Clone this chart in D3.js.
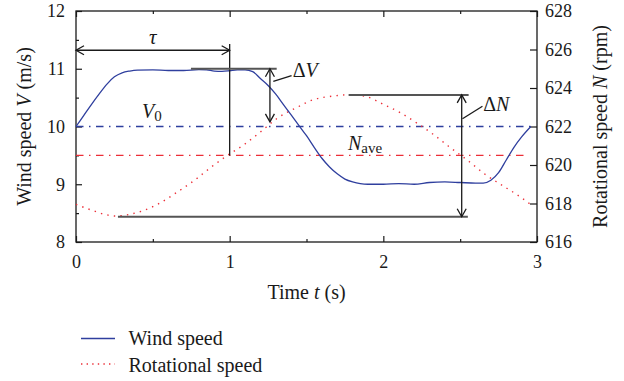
<!DOCTYPE html>
<html><head><meta charset="utf-8">
<script src="https://cdn.jsdelivr.net/npm/d3@7"></script>
<style>
body{margin:0;background:#fff;}
svg{display:block;}
svg text{font-family:"Liberation Serif","Tinos","DejaVu Serif","Noto Serif",serif;}
</style></head>
<body>
<svg id="c" width="624" height="381"></svg>
<script>
// ---- data ----
const windT = [0,0.05,0.1,0.15,0.2,0.25,0.3,0.35,0.4,0.5,0.6,0.7,0.8,0.85,0.9,0.95,1.0,1.05,1.1,1.15,1.2,1.25,1.3,1.35,1.4,1.45,1.5,1.55,1.6,1.65,1.7,1.75,1.8,1.85,1.9,2.0,2.1,2.2,2.3,2.4,2.5,2.6,2.65,2.7,2.75,2.8,2.85,2.9,2.96];
const windV = [10,10.19,10.38,10.56,10.73,10.86,10.93,10.96,10.975,10.98,10.97,10.97,10.985,10.98,10.96,10.955,10.965,10.98,10.98,10.95,10.83,10.71,10.56,10.38,10.2,10.02,9.84,9.64,9.45,9.3,9.18,9.09,9.04,9.01,9.0,9.0,9.01,9.0,9.03,9.04,9.03,9.02,9.02,9.07,9.2,9.42,9.64,9.82,10.0];
const rotT = [0,0.1,0.18,0.26,0.35,0.43,0.55,0.66,0.77,0.87,0.98,1.09,1.19,1.31,1.44,1.54,1.67,1.78,1.89,2.0,2.11,2.22,2.33,2.42,2.56,2.66,2.77,2.89,2.955];
const rotN = [617.95,617.66,617.45,617.35,617.44,617.61,618.04,618.6,619.2,619.83,620.47,621.04,621.65,622.43,623.0,623.38,623.58,623.65,623.55,623.15,622.72,622.17,621.56,621.0,620.17,619.53,618.96,618.35,617.97];
const V0 = 10, Nave = 620.5;
const xTicks = [0,1,2,3], xMinor = [0.5,1.5,2.5];
const yLeftTicks = [8,9,10,11,12], yLeftMinor = [8.5,9.5,10.5,11.5];
const yRightTicks = [616,618,620,622,624,626,628];
const legendLabels = ["Wind speed","Rotational speed"];

// ---- layout ----
const W=624,H=381, m={l:76,r:87,t:11,b:139};
const pw=W-m.l-m.r, ph=H-m.t-m.b;
const svg=d3.select("#c");
const g=svg.append("g").attr("transform",`translate(${m.l},${m.t})`);
const x=d3.scaleLinear().domain([0,3]).range([0,pw]);
const yL=d3.scaleLinear().domain([8,12]).range([ph,0]);
const yR=d3.scaleLinear().domain([616,628]).range([ph,0]);

const blue="#2f3f9e", red="#ec2f38", ink="#1a1a1a";
const FF='"Liberation Serif","Tinos","DejaVu Serif","Noto Serif",serif';

// box
g.append("rect").attr("width",pw).attr("height",ph).attr("fill","none").attr("stroke",ink).attr("stroke-width",1.3);

function styleAxis(sel,fs){sel.attr("font-family",FF);sel.select(".domain").remove();sel.selectAll("line").attr("stroke",ink).attr("stroke-width",1.2);
  sel.selectAll("text").attr("font-size",fs).attr("fill",ink).style("font-family",FF);}
g.append("g").attr("transform",`translate(0,${ph})`).call(d3.axisBottom(x).tickValues(xTicks).tickFormat(d3.format("d")).tickSizeInner(-6).tickSizeOuter(0).tickPadding(13.5)).call(s=>styleAxis(s,18));
g.append("g").attr("transform",`translate(0,${ph})`).call(d3.axisBottom(x).tickValues(xMinor).tickFormat("").tickSizeInner(-3).tickSizeOuter(0)).call(s=>styleAxis(s,18));
g.append("g").call(d3.axisTop(x).tickValues(xTicks).tickFormat("").tickSizeInner(-6).tickSizeOuter(0)).call(s=>styleAxis(s,18));
g.append("g").call(d3.axisTop(x).tickValues(xMinor).tickFormat("").tickSizeInner(-3).tickSizeOuter(0)).call(s=>styleAxis(s,18));
g.append("g").call(d3.axisLeft(yL).tickValues(yLeftTicks).tickFormat(d3.format("d")).tickSizeInner(-6).tickSizeOuter(0).tickPadding(11)).call(s=>styleAxis(s,18));
g.append("g").call(d3.axisLeft(yL).tickValues(yLeftMinor).tickFormat("").tickSizeInner(-3).tickSizeOuter(0)).call(s=>styleAxis(s,18));
g.append("g").attr("transform",`translate(${pw},0)`).call(d3.axisRight(yR).tickValues(yRightTicks).tickFormat(d3.format("d")).tickSizeInner(-7).tickSizeOuter(0).tickPadding(8)).call(s=>styleAxis(s,18));

// reference lines
const dd="7.5,5.5,1.5,5.5";
g.append("line").attr("x1",x(0)).attr("x2",x(2.96)).attr("y1",yL(V0)).attr("y2",yL(V0)).attr("stroke",blue).attr("stroke-width",1.3).attr("stroke-dasharray",dd);
g.append("line").attr("x1",x(0)).attr("x2",x(2.94)).attr("y1",yR(Nave)).attr("y2",yR(Nave)).attr("stroke",red).attr("stroke-width",1.3).attr("stroke-dasharray",dd);

// series
const windLine=d3.line().x((d,i)=>x(windT[i])).y(d=>yL(d)).curve(d3.curveMonotoneX);
const rotLine=d3.line().x((d,i)=>x(rotT[i])).y(d=>yR(d)).curve(d3.curveMonotoneX);
g.append("path").attr("d",rotLine(rotN)).attr("fill","none").attr("stroke",red).attr("stroke-width",1.4).attr("stroke-dasharray","1.4,5.2");
g.append("path").attr("d",windLine(windV)).attr("fill","none").attr("stroke",blue).attr("stroke-width",1.3);

// annotations
function seg(x1,y1,x2,y2,c,w){g.append("line").attr("x1",x1).attr("y1",y1).attr("x2",x2).attr("y2",y2).attr("stroke",c||ink).attr("stroke-width",w||1.3);}
function head(px,py,dir){
  const L=8,S=4.5; let p;
  if(dir==='l')p=[[px+L,py-S],[px,py],[px+L,py+S]];
  if(dir==='r')p=[[px-L,py-S],[px,py],[px-L,py+S]];
  if(dir==='u')p=[[px-S,py+L],[px,py],[px+S,py+L]];
  if(dir==='d')p=[[px-S,py-L],[px,py],[px+S,py-L]];
  g.append("path").attr("d",d3.line()(p)).attr("fill","none").attr("stroke",ink).attr("stroke-width",1.3);
}
const tauY=yL(11.32);
seg(x(0),tauY,x(1),tauY); head(x(0),tauY,'l'); head(x(1),tauY,'r');
seg(x(1),yL(11.43),x(1),yL(9.5));
seg(x(0.748),yL(11),x(1.306),yL(11),"#555",2);
const dvx=x(1.262);
seg(dvx,yL(11),dvx,yL(10.08)); head(dvx,yL(11),'u'); head(dvx,yL(10.08),'d');
seg(x(1.284),yL(10.78),x(1.403),yL(10.88));
seg(x(1.774),yR(623.64),x(2.555),yR(623.64),"#555",2);
seg(x(0.273),yR(617.31),x(2.55),yR(617.31),"#555",2);
const dnx=x(2.51);
seg(dnx,yR(623.64),dnx,yR(617.31)); head(dnx,yR(623.64),'u'); head(dnx,yR(617.31),'d');
seg(x(2.515),yR(622.4),x(2.645),yR(623.05));

function label(px,py,parts,fs){const t=g.append("text").attr("x",px).attr("y",py).attr("font-size",fs||20).attr("fill",ink);
  parts.forEach(p=>{const s=t.append("tspan").text(p.t);if(p.i)s.attr("font-style","italic");if(p.sub)s.attr("font-size",p.sub).attr("dy",p.dy||0);});return t;}
label(x(0.5),tauY-6,[{t:"τ",i:true}],21).attr("text-anchor","middle");
label(x(1.41),yL(10.88)+1,[{t:"Δ"},{t:"V",i:true}]);
label(x(2.65),yR(623.05)+5,[{t:"Δ"},{t:"N",i:true}]);
label(x(0.43),yL(10.14),[{t:"V",i:true},{t:"0",sub:15,dy:3}]);
label(x(1.77),yR(620.8),[{t:"N",i:true},{t:"ave",sub:15,dy:3}]);

// axis titles
svg.append("text").attr("transform",`translate(31,${m.t+ph/2}) rotate(-90)`).attr("text-anchor","middle").attr("font-size",20).attr("fill",ink)
  .call(t=>{t.append("tspan").text("Wind speed ");t.append("tspan").attr("font-style","italic").text("V");t.append("tspan").text(" (m/s)");});
svg.append("text").attr("transform",`translate(607,${m.t+ph/2}) rotate(-90)`).attr("text-anchor","middle").attr("font-size",20).attr("fill",ink)
  .call(t=>{t.append("tspan").text("Rotational speed ");t.append("tspan").attr("font-style","italic").text("N");t.append("tspan").text(" (rpm)");});
svg.append("text").attr("x",m.l+pw/2).attr("y",299).attr("text-anchor","middle").attr("font-size",20).attr("fill",ink)
  .call(t=>{t.append("tspan").text("Time ");t.append("tspan").attr("font-style","italic").text("t");t.append("tspan").text(" (s)");});

// legend
const lg=svg.append("g");
lg.append("line").attr("x1",81).attr("x2",115).attr("y1",338.5).attr("y2",338.5).attr("stroke",blue).attr("stroke-width",1.3);
lg.append("line").attr("x1",81).attr("x2",115).attr("y1",364).attr("y2",364).attr("stroke",red).attr("stroke-width",1.4).attr("stroke-dasharray","1.4,4.2");
lg.append("text").attr("x",128.5).attr("y",345).attr("font-size",20).attr("fill",ink).text(legendLabels[0]);
lg.append("text").attr("x",128.5).attr("y",371.5).attr("font-size",20).attr("fill",ink).text(legendLabels[1]);
</script>
</body></html>
